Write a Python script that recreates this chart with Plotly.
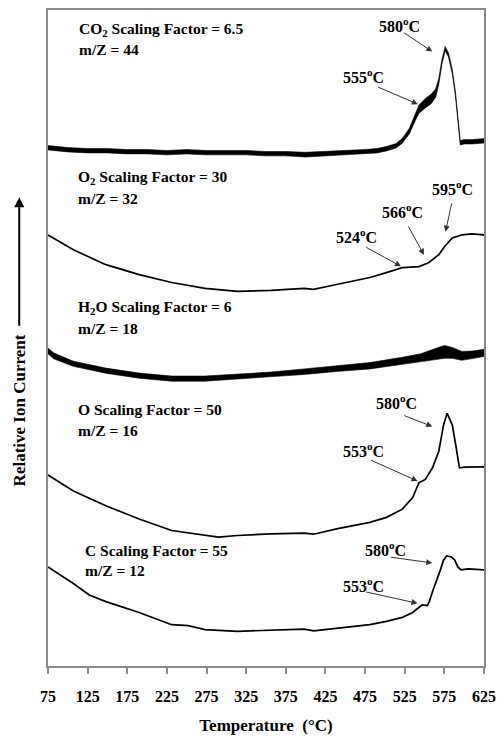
import plotly.graph_objects as go

# ---------------- data (relative ion current, stacked, arbitrary units) ----------------
co2_t = [75, 100, 125, 150, 175, 200, 225, 250, 275, 300, 325, 350, 375, 400, 425, 450, 475, 490,
         502, 514, 522, 531, 539, 543, 551, 558, 564, 568, 572, 576, 580, 585, 589, 593, 595, 600, 610, 625]
co2_v = [523, 521, 520, 520, 519, 519, 518, 519, 518, 518, 518, 517, 517, 516, 517, 518, 519, 520,
         522, 525, 530, 540, 555, 562, 568, 572, 578, 590, 610, 623, 617, 600, 577, 543, 528, 529, 529, 530]
co2_noise = [2.2, 2.2, 2.2, 2.2, 2.2, 2.2, 2.2, 2.2, 2.2, 2.2, 2.2, 2.2, 2.2, 2.4, 2.2, 2.2, 2.2, 2.2,
             2.2, 2.2, 2.4, 2.8, 3.5, 4.2, 4.8, 4.8, 4.2, 3.2, 2.4, 2.2, 2.2, 2.2, 2.2, 2.2, 2.2, 2.2, 2.2, 2.2]

o2_t = [75, 107, 148, 190, 231, 273, 314, 356, 398, 410, 439, 481, 502, 522, 543, 555, 568, 576, 585, 597, 610, 625]
o2_v = [435, 420, 405, 395, 387, 381, 378, 379, 381, 380, 385, 392, 397, 402, 403, 407, 415, 424, 432, 435, 436, 435]

h2o_t = [75, 82, 107, 148, 190, 231, 273, 314, 356, 398, 439, 481, 522, 545, 564, 575, 585, 597, 610, 625]
h2o_v = [318, 313, 305, 298, 293, 290, 290, 292, 294, 297, 300, 303, 308, 311, 315, 317, 316, 313, 314, 316]
h2o_noise = [3, 3, 2.6, 2.6, 2.6, 2.6, 2.6, 2.6, 2.6, 2.8, 2.8, 3.2, 3.6, 4, 5.5, 6.5, 5.5, 4.5, 3.8, 3.6]

o_t = [75, 107, 148, 190, 231, 273, 290, 314, 356, 398, 410, 439, 481, 502, 522, 535, 543, 551, 560,
       568, 574, 578.5, 585, 590, 594, 601, 625]
o_v = [192.7, 176.7, 161.7, 148.3, 136.7, 131.7, 130, 131.7, 133.3, 134, 133, 138.3, 145, 150, 158.3,
       170, 185, 188.3, 200, 216.7, 243.3, 255, 243.3, 220, 200, 200.7, 201]

c_t = [75, 107, 127, 148, 190, 231, 252, 273, 314, 356, 398, 410, 439, 481, 502, 522, 535, 547, 553.5,
       556, 560, 564, 570, 574, 578, 584, 588, 592, 596, 605, 625]
c_v = [100, 83.3, 71.7, 65, 54, 41.7, 40.7, 36.7, 35, 36, 37.3, 35.5, 38.3, 41.7, 45, 49, 54, 61.7, 61,
       65, 75, 83, 97, 107, 111, 110, 107, 100, 97, 98, 97]

x_ticks = [75, 125, 175, 225, 275, 325, 375, 425, 475, 525, 575, 625]

FONT = "Liberation Serif, Times New Roman, serif"

fig = go.Figure()


def band(t, v, hw):
    lo = [a - b for a, b in zip(v, hw)]
    hi = [a + b for a, b in zip(v, hw)]
    fig.add_trace(go.Scatter(x=t, y=lo, mode="lines", line=dict(color="black", width=0.6),
                             showlegend=False, hoverinfo="skip"))
    fig.add_trace(go.Scatter(x=t, y=hi, mode="lines", line=dict(color="black", width=0.6),
                             fill="tonexty", fillcolor="black", showlegend=False, hoverinfo="skip"))


band(co2_t, co2_v, co2_noise)
band(h2o_t, h2o_v, h2o_noise)
for t, v in [(o2_t, o2_v), (o_t, o_v), (c_t, c_v)]:
    fig.add_trace(go.Scatter(x=t, y=v, mode="lines", line=dict(color="black", width=1.7),
                             showlegend=False))

ann = []
lab_font = dict(family=FONT, size=15.5, color="black", weight="bold")
tmp_font = dict(family=FONT, size=16, color="black", weight="bold")


def label(x, y, text, anchor="left", font=lab_font):
    ann.append(dict(x=x, y=y, xref="x", yref="y", text=text, showarrow=False,
                    xanchor=anchor, yanchor="middle", font=font))


def arrow(xh, yh, xt, yt):
    ann.append(dict(x=xh, y=yh, ax=xt, ay=yt, xref="x", yref="y", axref="x", ayref="y",
                    text="", showarrow=True, arrowhead=2, arrowsize=1.2, arrowwidth=1,
                    arrowcolor="#333333"))


# series labels
label(111, 642, "CO<sub>2</sub> Scaling Factor = 6.5")
label(111, 622, "m/Z = 44")
label(110, 493, "O<sub>2</sub> Scaling Factor = 30")
label(110, 472, "m/Z = 32")
label(110, 362, "H<sub>2</sub>O Scaling Factor = 6")
label(110, 341, "m/Z = 18")
label(110, 259, "O Scaling Factor = 50")
label(110, 238, "m/Z = 16")
label(118.7, 117, "C Scaling Factor = 55")
label(118.7, 96, "m/Z = 12")

# temperature callouts
label(518, 647, "580<sup>o</sup>C", "center", tmp_font)
arrow(559.8, 620, 522.4, 640)
label(472.9, 595, "555<sup>o</sup>C", "center", tmp_font)
arrow(541.5, 567, 489.1, 585)

label(585.1, 482, "595<sup>o</sup>C", "center", tmp_font)
arrow(576.4, 438.3, 584.7, 468.3)
label(522.7, 459, "566<sup>o</sup>C", "center", tmp_font)
arrow(549.3, 415, 528.6, 445)
label(464.1, 434, "524<sup>o</sup>C", "center", tmp_font)
arrow(520.3, 403.3, 474.5, 423.3)

label(514, 266, "580<sup>o</sup>C", "center", tmp_font)
arrow(559.8, 241.7, 522.4, 253.3)
label(472.9, 218, "553<sup>o</sup>C", "center", tmp_font)
arrow(541.1, 186.7, 480.7, 208.3)

label(500.3, 118, "580<sup>o</sup>C", "center", tmp_font)
arrow(559.8, 104, 505.7, 110)
label(472.9, 82, "553<sup>o</sup>C", "center", tmp_font)
arrow(541.1, 63.3, 474.5, 75)

# y-axis title and arrow
ann.append(dict(x=-0.066, y=0.39, xref="paper", yref="paper", text="Relative Ion Current",
                textangle=-90, showarrow=False, xanchor="center", yanchor="middle",
                font=dict(family=FONT, size=17, color="black", weight="bold")))
ann.append(dict(x=-0.066, y=0.7145, xref="paper", yref="paper", text="", showarrow=True,
                ax=0, ay=130, axref="pixel", ayref="pixel", arrowhead=2, arrowsize=1,
                arrowwidth=2, arrowcolor="black"))

fig.update_layout(
    width=504, height=740,
    margin=dict(l=48, r=15, t=8, b=70),
    plot_bgcolor="white", paper_bgcolor="white",
    annotations=ann,
    xaxis=dict(range=[75, 625], tickvals=x_ticks, ticktext=[str(v) for v in x_ticks],
               showgrid=False, zeroline=False, showline=True, linecolor="#8a8a8a", linewidth=1.5,
               mirror=True, ticks="outside", ticklen=6, tickcolor="#8a8a8a", tickwidth=1.5,
               ticklabelstandoff=9,
               tickfont=dict(family=FONT, size=16, color="black", weight="bold"),
               title=dict(text="Temperature  (\u00b0C)", standoff=15,
                          font=dict(family=FONT, size=17, color="black", weight="bold"))),
    yaxis=dict(range=[0, 662], showgrid=False, zeroline=False, showticklabels=False,
               showline=True, linecolor="#8a8a8a", linewidth=1.5, mirror=True, ticks=""),
)

fig.write_html("out.html", config={"displayModeBar": False},
               post_script="document.body.style.margin='0';document.body.style.overflow='hidden';")
